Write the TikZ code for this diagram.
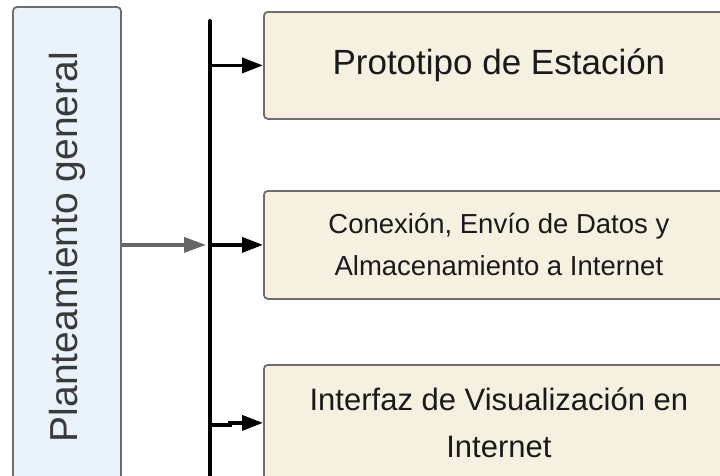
\documentclass[tikz,border=0pt]{standalone}
\usepackage{fontspec}
\setmainfont{Liberation Sans}
\usetikzlibrary{arrows.meta}
\definecolor{lblue}{HTML}{EAF2FC}
\definecolor{cream}{HTML}{F6F0E0}
\definecolor{edge}{HTML}{6E6E6E}
\definecolor{txt}{HTML}{1A1A1A}
\definecolor{ltxt}{HTML}{3A3A3A}
\definecolor{garr}{HTML}{666666}
\begin{document}
\begin{tikzpicture}[x=1pt,y=-1pt,
  leftbox/.style={draw=edge, line width=1.8pt, rounded corners=4pt, fill=lblue, text=ltxt, inner sep=0pt},
  rbox/.style={draw=edge, line width=1.8pt, rounded corners=4pt, fill=cream, text=txt, align=center, inner sep=0pt, minimum width=470pt, anchor=north west},
  arr/.style={line width=3.5pt, -{Triangle[length=21pt,width=15pt]}},
  garrow/.style={draw=garr, line width=3.5pt, -{Triangle[length=22pt,width=15pt]}}
]
\useasboundingbox (0,0) rectangle (720,475);
\clip (0,0) rectangle (720,475);
\node (plan) [leftbox, rotate=90, minimum width=480pt, minimum height=108pt,
  font=\fontsize{39}{44}\selectfont] at (67,247)
  {Planteamiento general};
\coordinate (top) at (210,21);
\coordinate (bot) at (210,485);
\draw[line width=4pt, line cap=round] (top) -- (bot);
\node (b1) [rbox, minimum height=107pt, font=\fontsize{35}{40}\selectfont] at (263,11)
  {Prototipo de Estación};
\node (b2) [rbox, minimum height=108pt, font=\fontsize{27.5}{42}\selectfont] at (263,190)
  {Conexión, Envío de Datos y\\ Almacenamiento a Internet};
\node (b3) [rbox, minimum height=116pt, font=\fontsize{31}{47}\selectfont] at (263,364)
  {Interfaz de Visualización en\\ Internet};
\draw[arr] (b1.west -| top) -- (b1.west);
\draw[arr] (b2.west -| top) -- (b2.west);
\coordinate (j) at (210,425);
\draw[arr] (j) -- ++(20,0) |- (b3.west);
\draw[garrow] (plan.south |- b2.west) -- ([xshift=-4pt]b2.west -| top);
\end{tikzpicture}
\end{document}
